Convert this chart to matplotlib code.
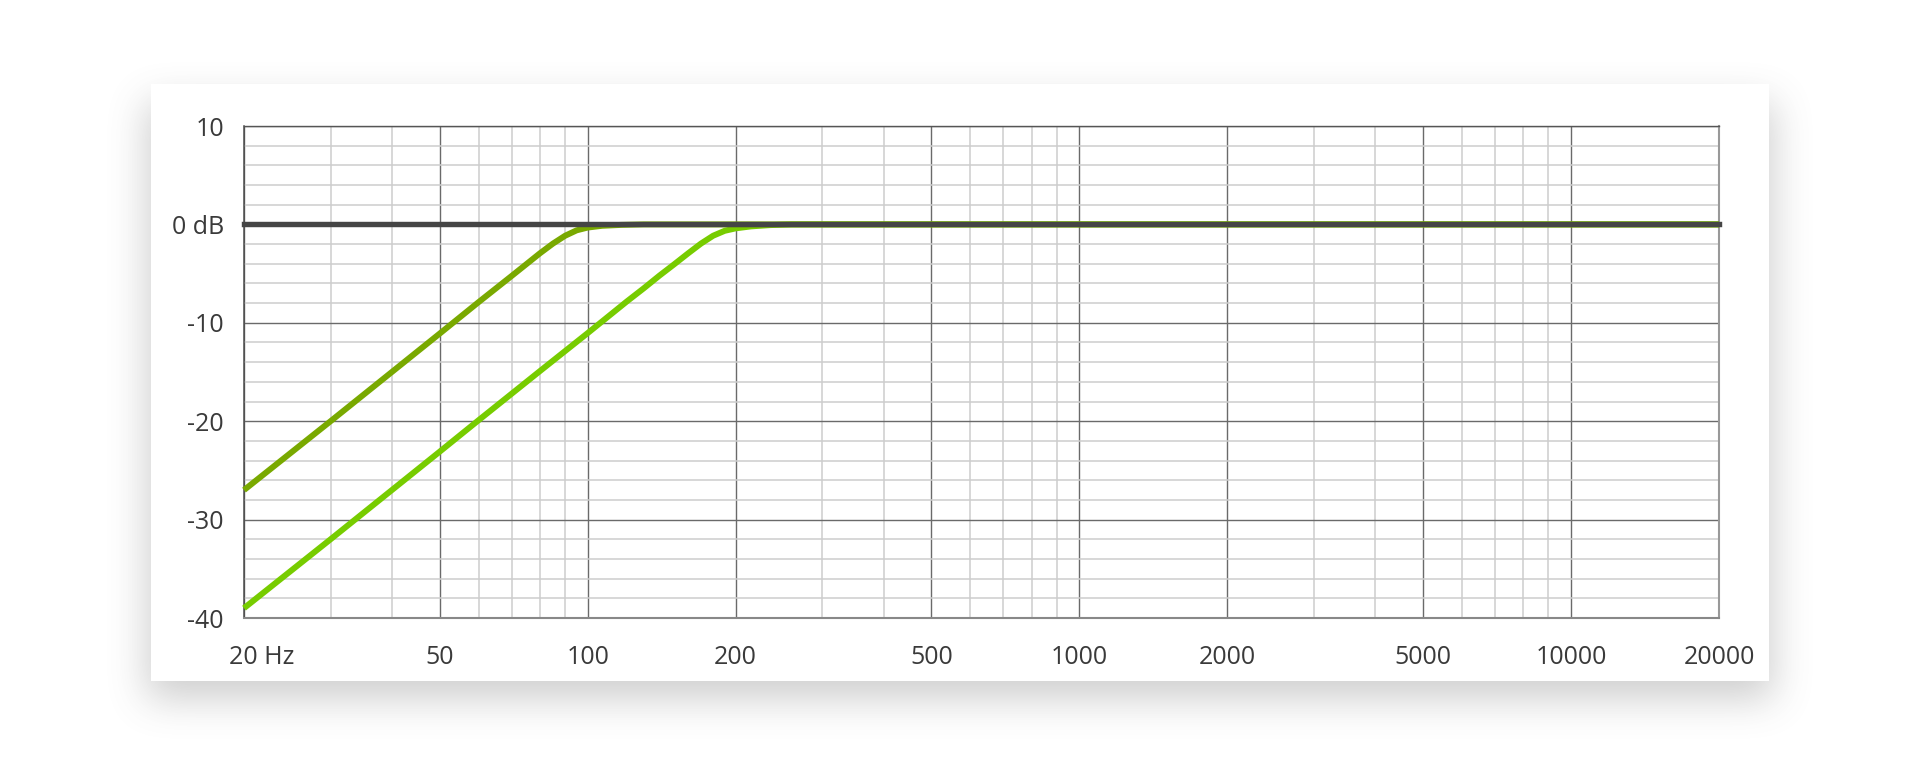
import numpy as np
import matplotlib
matplotlib.use('Agg')
import matplotlib.pyplot as plt
from matplotlib.patches import Rectangle
from matplotlib.ticker import NullFormatter

plt.rcParams['font.family'] = ['Open Sans', 'DejaVu Sans']

# high-pass curves (Hz, dB)
freq_a = [20, 30, 50, 60, 70, 80, 85, 90, 95, 100, 107, 117, 130, 20000]
gain_a = [-27, -20, -11.1, -7.9, -5.25, -2.93, -1.95, -1.15, -0.6, -0.32, -0.14, -0.05, 0, 0]

freq_b = [20, 30, 50, 60, 80, 100, 120, 130, 140, 150, 160, 170, 180, 190, 200, 215, 235, 260, 20000]
gain_b = [-39, -32, -23.1, -19.9, -14.9, -11.05, -7.85, -6.5, -5.2, -4.05, -2.95, -1.95, -1.15,
          -0.65, -0.4, -0.2, -0.07, 0, 0]

xticks = [20, 50, 100, 200, 500, 1000, 2000, 5000, 10000, 20000]
xlabels = ['20 Hz', '50', '100', '200', '500', '1000', '2000', '5000', '10000', '20000']
yticks = [10, 0, -10, -20, -30, -40]
ylabels = ['10', '0 dB', '-10', '-20', '-30', '-40']

W, H = 1920, 768
txt_col = '#3a3a3a'
fs = 18

fig = plt.figure(figsize=(W / 100, H / 100), dpi=100)
fig.patch.set_facecolor('white')


def blur1d(a, r, axis):
    a = np.moveaxis(a, axis, -1)
    p = np.pad(a, [(0, 0), (r + 1, r)], mode='edge')
    c = np.cumsum(p, axis=-1)
    out = (c[:, 2 * r + 1:] - c[:, :-2 * r - 1]) / (2 * r + 1)
    return np.moveaxis(out, -1, axis)


# white card with soft drop shadow
px0, px1, py0, py1 = 151, 1769, 84, 681
mask = np.zeros((H, W))
mask[py0 + 18:py1 + 18, px0 - 4:px1 + 4] = 1.0
for _ in range(3):
    mask = blur1d(mask, 18, 0)
    mask = blur1d(mask, 18, 1)
shadow = np.zeros((H, W, 4))
shadow[..., :3] = 0.42
shadow[..., 3] = 0.33 * mask

bg = fig.add_axes([0, 0, 1, 1])
bg.set_axis_off()
bg.imshow(shadow, extent=(0, W, H, 0), aspect='auto', interpolation='nearest')
bg.add_patch(Rectangle((px0, py0), px1 - px0, py1 - py0, facecolor='white', edgecolor='none'))
bg.set_xlim(0, W)
bg.set_ylim(H, 0)

# chart area
ax = fig.add_axes([244 / W, 1 - 618 / H, (1719 - 244) / W, (618 - 126) / H])
ax.set_facecolor('white')
ax.set_xscale('log')
ax.set_xlim(20, 20000)
ax.set_ylim(-40, 10)

minor_x = [m * 10 ** k for k in range(1, 5) for m in range(2, 10)]
minor_x = [v for v in minor_x if 20 < v < 20000 and v not in xticks]
ax.set_xticks(xticks)
ax.set_xticks(minor_x, minor=True)
ax.xaxis.set_major_formatter(NullFormatter())
ax.xaxis.set_minor_formatter(NullFormatter())

ax.set_yticks(yticks, ylabels)
ax.set_yticks([v for v in range(-40, 11, 2) if v % 10], minor=True)

ax.set_axisbelow(True)
ax.grid(which='minor', color='#cdcdcd', lw=1.1)
ax.grid(which='major', color='#6a6a6a', lw=1.0)
ax.tick_params(which='both', length=0, labelbottom=False)
ax.tick_params(axis='y', pad=14.4, labelsize=fs, labelcolor=txt_col)

for side, col, w in [('left', '#4a4a4a', 1.1), ('top', '#555555', 1.0),
                     ('right', '#999999', 1.5), ('bottom', '#888888', 1.5)]:
    ax.spines[side].set_color(col)
    ax.spines[side].set_linewidth(w)

ax.plot(freq_b, gain_b, color='#77cc00', lw=4.3, solid_capstyle='butt', solid_joinstyle='round',
        zorder=3, clip_on=False)
ax.plot(freq_a, gain_a, color='#79a900', lw=4.3, solid_capstyle='butt', solid_joinstyle='round',
        zorder=3, clip_on=False)
ax.axhline(0, color='#454545', lw=3.9, zorder=4, clip_on=False, solid_capstyle='projecting')

for i, (f, lab) in enumerate(zip(xticks, xlabels)):
    if i == 0:
        ax.annotate(lab, xy=(f, 0), xycoords=('data', 'axes fraction'), xytext=(-15, -27),
                    textcoords='offset pixels', ha='left', va='top', fontsize=fs, color=txt_col)
    else:
        ax.annotate(lab, xy=(f, 0), xycoords=('data', 'axes fraction'), xytext=(0, -27),
                    textcoords='offset pixels', ha='center', va='top', fontsize=fs, color=txt_col)

fig.savefig('out.png', dpi=100, facecolor='white')
